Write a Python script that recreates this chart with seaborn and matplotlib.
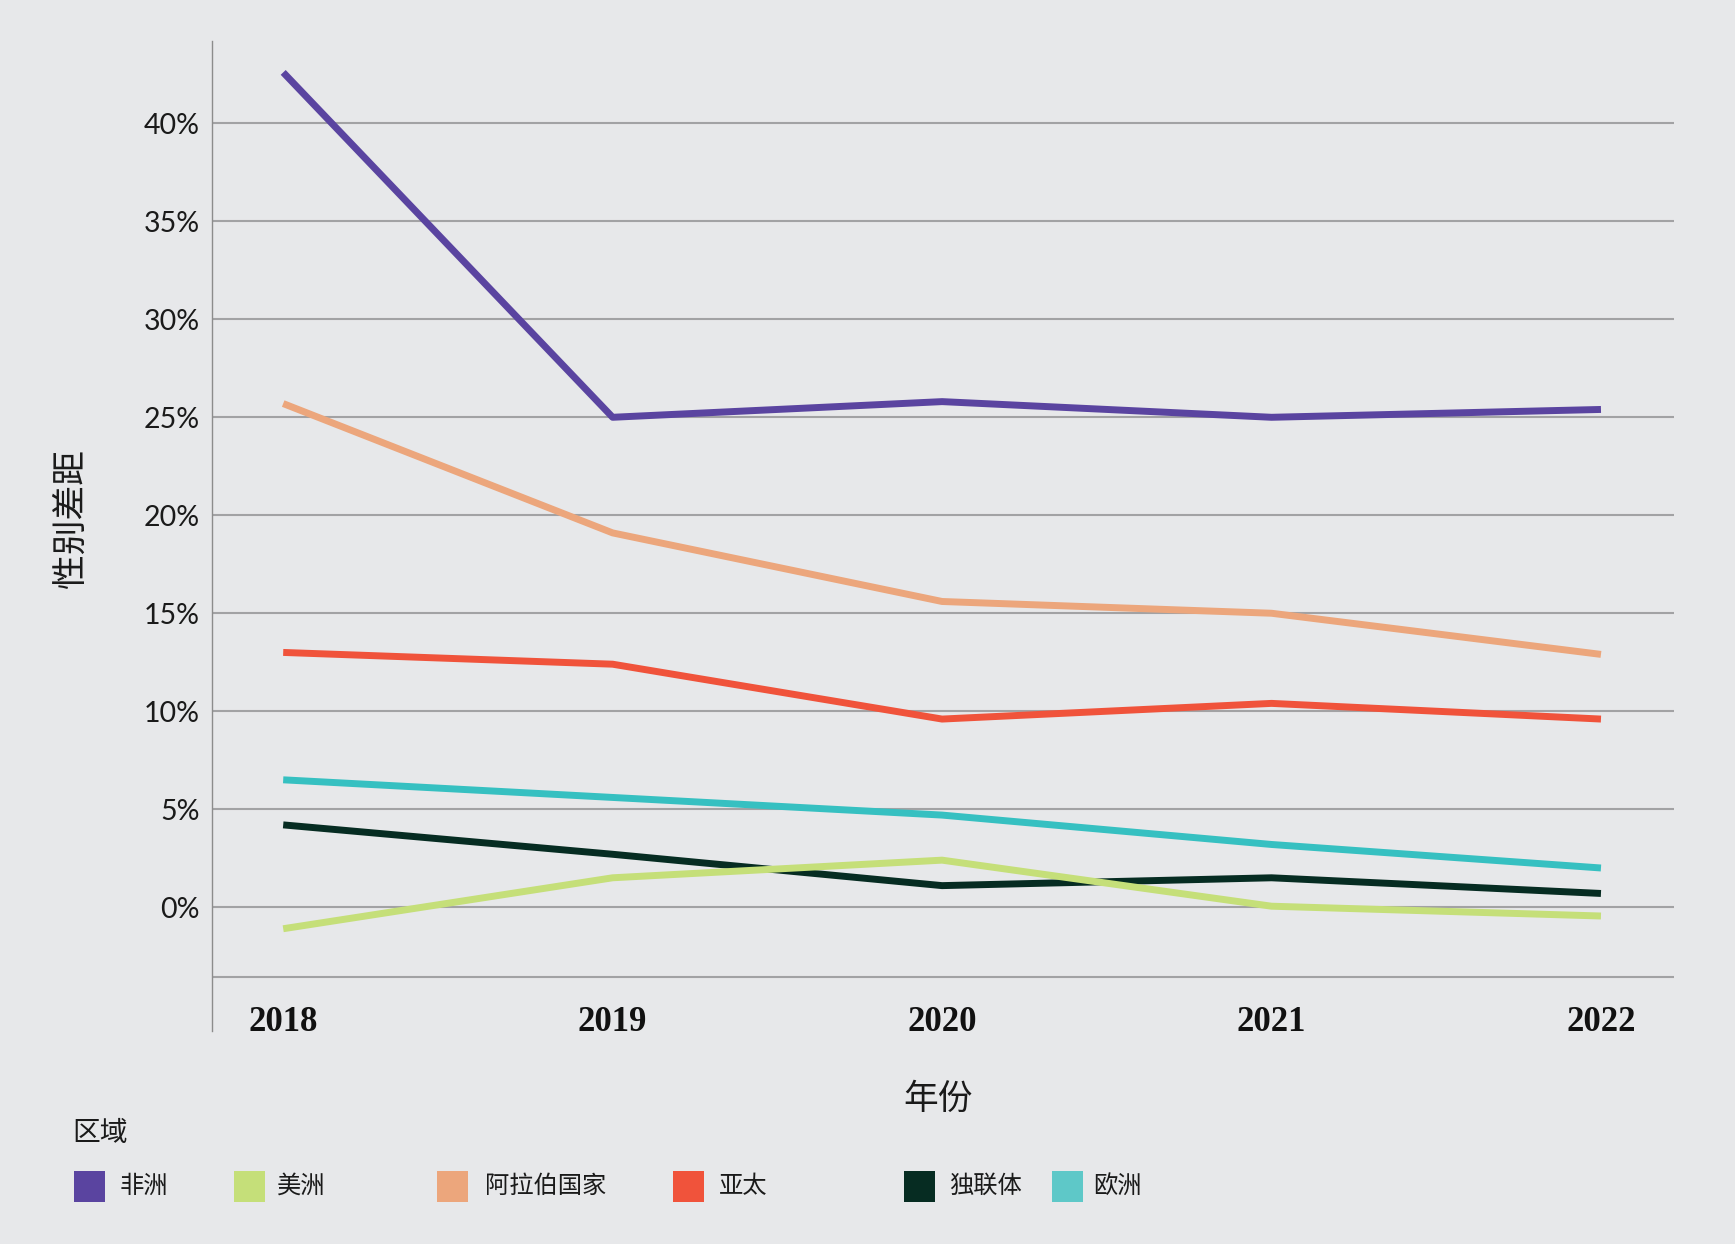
import matplotlib
matplotlib.use("Agg")
import matplotlib.pyplot as plt
from matplotlib.patches import Rectangle
from matplotlib.ticker import PercentFormatter
import seaborn as sns
import pandas as pd

# ---- data ----
years = [2018, 2019, 2020, 2021, 2022]
regions = ["非洲", "美洲", "阿拉伯国家", "亚太", "独联体", "欧洲"]
africa = [42.6, 25.0, 25.8, 25.0, 25.4]
americas = [-1.1, 1.5, 2.4, 0.05, -0.45]
arab = [25.7, 19.1, 15.6, 15.0, 12.9]
asia_pacific = [13.0, 12.4, 9.6, 10.4, 9.6]
cis = [4.2, 2.7, 1.1, 1.5, 0.7]
europe = [6.5, 5.6, 4.7, 3.2, 2.0]
y_ticks = [0, 5, 10, 15, 20, 25, 30, 35, 40]
x_label = "年份"
y_label = "性别差距"
legend_title = "区域"

line_colors = {"非洲": "#5a44a0", "美洲": "#c5df79", "阿拉伯国家": "#eca67c",
               "亚太": "#f0533b", "独联体": "#062c22", "欧洲": "#36c0c1"}
legend_colors = {"非洲": "#5a44a0", "美洲": "#c5df79", "阿拉伯国家": "#eca67c",
                 "亚太": "#f0533b", "独联体": "#062c22", "欧洲": "#5ec8c8"}

series = [africa, americas, arab, asia_pacific, cis, europe]
df = pd.DataFrame([
    {"year": y, "region": r, "gap": v}
    for r, vals in zip(regions, series) for y, v in zip(years, vals)
])

# ---- style ----
BG = "#e7e8ea"
sns.set_theme(style="white")
plt.rcParams["font.family"] = ["Noto Sans CJK SC", "DejaVu Sans"]

fig = plt.figure(figsize=(17.35, 12.44), dpi=100, facecolor=BG)
ax = fig.add_axes([0.1224, 0.1712, 0.8425, 0.7958])
ax.set_facecolor(BG)

draw_order = ["非洲", "阿拉伯国家", "亚太", "独联体", "欧洲", "美洲"]
sns.lineplot(data=df, x="year", y="gap", hue="region", hue_order=draw_order,
             palette=line_colors, linewidth=5.0, legend=False, ax=ax,
             solid_capstyle="butt")

ax.set_xlim(2017.785, 2022.222)
ax.set_ylim(-6.32, 44.2)

# grid lines
ax.set_yticks(y_ticks)
ax.yaxis.grid(True, color="#a2a2a4", linewidth=1.5)
ax.xaxis.grid(False)
ax.axhline(-3.55, color="#a2a2a4", linewidth=1.5, zorder=0.5)
ax.set_axisbelow(True)

for s in ["top", "right", "bottom"]:
    ax.spines[s].set_visible(False)
ax.spines["left"].set_color("#8c8c8c")
ax.spines["left"].set_linewidth(1.0)

ax.yaxis.set_major_formatter(PercentFormatter(xmax=100, decimals=0))
ax.tick_params(axis="y", length=0, pad=9, labelsize=20.5, labelcolor="#1a1a1a")
for t in ax.get_yticklabels():
    t.set_fontfamily("Lato")

ax.set_xticks(years)
ax.set_xticklabels([str(y) for y in years])
ax.tick_params(axis="x", length=0, pad=-18, labelsize=25, labelcolor="#111111")
for t in ax.get_xticklabels():
    t.set_fontfamily("Liberation Serif")
    t.set_fontweight("bold")

ax.set_xlabel(x_label, fontsize=25, color="#1a1a1a")
ax.xaxis.set_label_coords(0.4965, -0.051)
ax.set_ylabel(y_label, fontsize=25, color="#1a1a1a")
ax.yaxis.set_label_coords(-0.0848, 0.518)

# ---- legend (manual layout, figure pixels) ----
W, H = 1735.0, 1244.0
fig.text(72 / W, 1 - 1133 / H, legend_title, fontsize=20, va="center", ha="left",
         color="#1a1a1a")
patch_x = [74, 233.5, 437, 673, 904, 1052]
text_x = [119.5, 276.5, 484.5, 719, 949.5, 1093]
patch_size = 31
patch_cy = 1186
for r, px, tx in zip(regions, patch_x, text_x):
    fig.add_artist(Rectangle((px / W, 1 - (patch_cy + patch_size / 2) / H),
                             patch_size / W, patch_size / H,
                             transform=fig.transFigure,
                             facecolor=legend_colors[r], edgecolor="none"))
    fig.text(tx / W, 1 - patch_cy / H, r, fontsize=17.5, va="center", ha="left",
             color="#1a1a1a")

fig.savefig("out.png", dpi=100, facecolor=BG)
